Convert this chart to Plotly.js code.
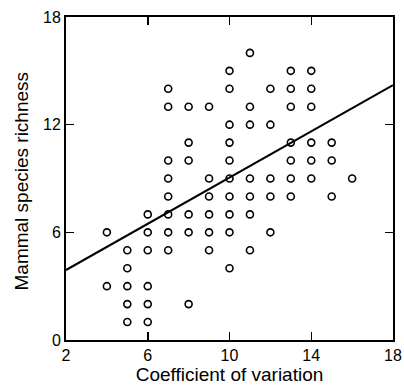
<!DOCTYPE html>
<html>
<head>
<meta charset="utf-8">
<script src="https://cdn.plot.ly/plotly-3.0.1.min.js"></script>
<style>html,body{margin:0;padding:0;background:#fff}#chart{width:404px;height:391px}</style>
</head>
<body>
<div id="chart"></div>
<script>
// Coefficient of variation (x) and mammal species richness (y) for each site
const cvValues = [
  4, 4,
  5, 5, 5, 5, 5,
  6, 6, 6, 6, 6, 6,
  7, 7, 7, 7, 7, 7, 7, 7,
  8, 8, 8, 8, 8, 8,
  9, 9, 9, 9, 9, 9,
  10, 10, 10, 10, 10, 10, 10, 10, 10, 10,
  11, 11, 11, 11, 11, 11, 11,
  12, 12, 12, 12, 12,
  13, 13, 13, 13, 13, 13, 13,
  14, 14, 14, 14, 14, 14,
  15, 15, 15,
  16
];
const richnessValues = [
  6, 3,
  5, 4, 3, 2, 1,
  7, 6, 5, 3, 2, 1,
  14, 13, 10, 9, 8, 7, 6, 5,
  13, 11, 10, 7, 6, 2,
  13, 9, 8, 7, 6, 5,
  15, 14, 12, 11, 10, 9, 8, 7, 6, 4,
  16, 13, 12, 9, 8, 7, 5,
  14, 12, 9, 8, 6,
  15, 14, 13, 11, 10, 9, 8,
  15, 14, 13, 11, 10, 9,
  11, 10, 8,
  9
];
// Regression line end points
const fitX = [2, 18];
const fitY = [3.9, 14.2];
const xTicks = [2, 6, 10, 14, 18];
const yTicks = [0, 6, 12, 18];
const xTitle = 'Coefficient of variation';
const yTitle = 'Mammal species richness';

const font = {family: 'Liberation Sans, Arial, sans-serif', color: '#000'};

const traces = [
  {
    x: cvValues, y: richnessValues, type: 'scatter', mode: 'markers',
    marker: {symbol: 'circle-open', size: 7, color: '#000', line: {width: 1.6, color: '#000'}},
    hoverinfo: 'x+y', showlegend: false
  },
  {
    x: fitX, y: fitY, type: 'scatter', mode: 'lines',
    line: {color: '#000', width: 2}, showlegend: false
  }
];

const axisCommon = {
  showgrid: false, zeroline: false,
  showline: true, linecolor: '#000', linewidth: 2, mirror: 'ticks',
  ticks: 'inside', ticklen: 8, tickwidth: 1.5, tickcolor: '#000',
  tickfont: Object.assign({size: 16}, font)
};

const layout = {
  width: 404, height: 391,
  margin: {l: 66, r: 11, t: 17, b: 51},
  paper_bgcolor: '#fff', plot_bgcolor: '#fff',
  font: font,
  xaxis: Object.assign({}, axisCommon, {
    range: [2, 18], tickvals: xTicks, ticktext: xTicks.map(String),
    title: {text: xTitle, font: Object.assign({size: 19}, font), standoff: 3}
  }),
  yaxis: Object.assign({}, axisCommon, {
    range: [0, 18], tickvals: yTicks, ticktext: yTicks.map(String)
  }),
  annotations: [{
    text: yTitle, textangle: -90, showarrow: false,
    xref: 'paper', yref: 'paper', x: 0, y: 0.5,
    xanchor: 'center', yanchor: 'middle', xshift: -45, yshift: -3,
    font: Object.assign({size: 19}, font)
  }]
};

Plotly.newPlot('chart', traces, layout, {displayModeBar: false, staticPlot: true});
</script>
</body>
</html>
